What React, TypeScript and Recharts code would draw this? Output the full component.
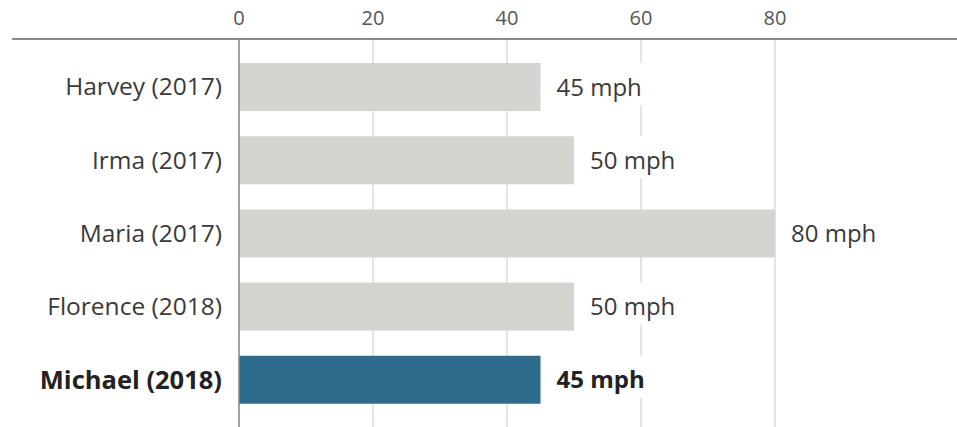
import { Bar, BarChart, CartesianGrid, Cell, LabelList, XAxis, YAxis } from "recharts"

const storms = ["Harvey (2017)", "Irma (2017)", "Maria (2017)", "Florence (2018)", "Michael (2018)"]
const windSpeeds = [45, 50, 80, 50, 45]
const highlighted = "Michael (2018)"
const xTicks = [0, 20, 40, 60, 80]

const FONT = "'Open Sans', Roboto, sans-serif"

const data = storms.map((name, i) => ({ name, speed: windSpeeds[i] }))

function StormTick(props: any) {
  const { x, y, payload } = props
  const bold = payload.value === highlighted
  return (
    <text
      x={x}
      y={y}
      dy="0.36em"
      textAnchor="end"
      fontFamily={FONT}
      fontSize={bold ? 25.5 : 24.5}
      fontWeight={bold ? 700 : 400}
      fill={bold ? "#222" : "#3a3a3a"}
    >
      {payload.value}
    </text>
  )
}

function SpeedLabel(props: any) {
  const { x, y, width, height, value, index } = props
  const bold = storms[index] === highlighted
  const tx = x + width + 16
  const cy = y + height / 2
  return (
    <g>
      <rect x={tx - 8} y={y} width={112} height={height - 6} fill="#fff" />
      <text
        x={tx}
        y={cy}
        dy="0.36em"
        fontFamily={FONT}
        fontSize={24}
        fontWeight={bold ? 700 : 400}
        fill={bold ? "#222" : "#3a3a3a"}
      >
        {value} mph
      </text>
    </g>
  )
}

export default function App() {
  return (
    <div
      style={{
        position: "absolute",
        left: 0,
        top: 0,
        width: 957,
        height: 427,
        overflow: "hidden",
        background: "#fff",
      }}
    >
      <BarChart
        layout="vertical"
        width={957}
        height={427}
        data={data}
        margin={{ top: 0, right: 48, bottom: 0, left: 0 }}
      >
        <CartesianGrid horizontal={false} verticalValues={xTicks} stroke="#dcdcdc" strokeWidth={1.5} />
        <XAxis
          type="number"
          orientation="top"
          domain={[0, 100]}
          ticks={xTicks}
          height={39}
          axisLine={false}
          tickLine={false}
          tickSize={6}
          tickMargin={8}
          tick={{ fill: "#555", fontSize: 20, fontFamily: FONT }}
        />
        <YAxis
          type="category"
          dataKey="name"
          width={239}
          axisLine={{ stroke: "#8a8a8a", strokeWidth: 1.5 }}
          tickLine={false}
          tickSize={6}
          tickMargin={11}
          padding={{ top: 11, bottom: 11 }}
          tick={<StormTick />}
        />
        <Bar dataKey="speed" barSize={48} isAnimationActive={false}>
          {data.map((d) => (
            <Cell key={d.name} fill={d.name === highlighted ? "#2e6c8e" : "#d4d4d0"} />
          ))}
          <LabelList dataKey="speed" content={<SpeedLabel />} />
        </Bar>
      </BarChart>
      <div
        style={{
          position: "absolute",
          left: 12,
          width: 945,
          top: 38,
          borderTop: "2px solid #8a8a8a",
        }}
      />
    </div>
  )
}
